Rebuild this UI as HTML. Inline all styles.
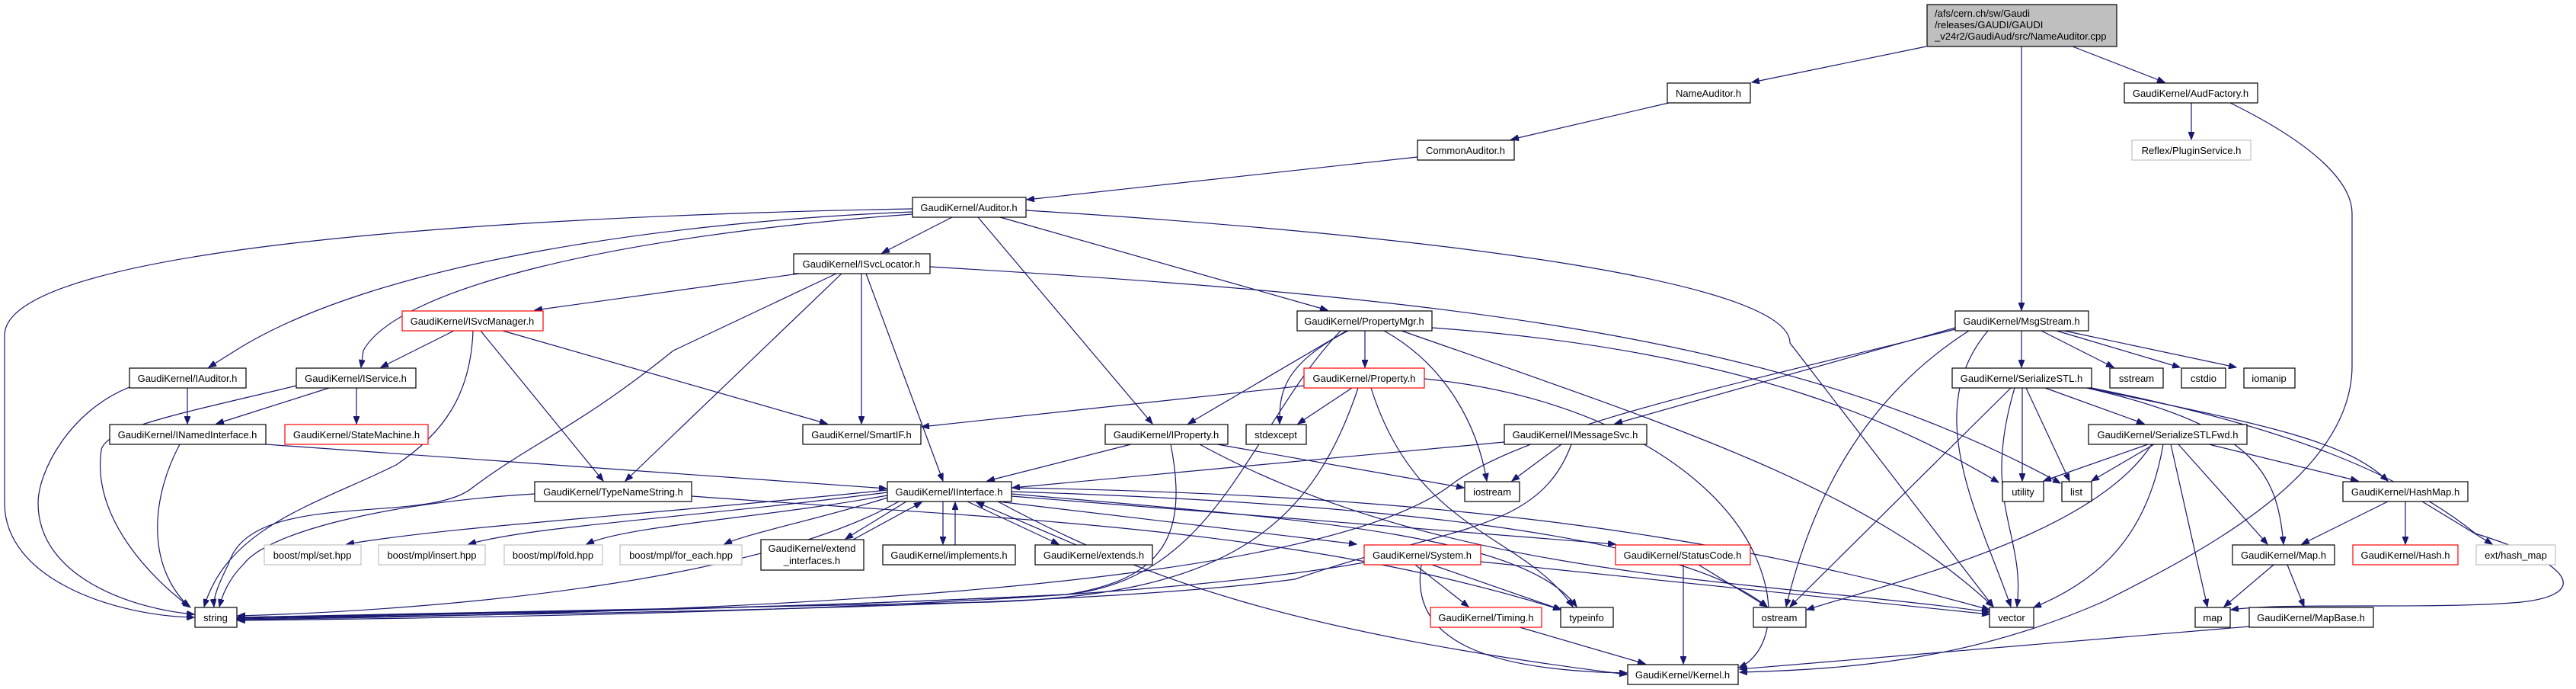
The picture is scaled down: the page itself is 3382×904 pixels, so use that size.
<!DOCTYPE html>
<html><head><meta charset="utf-8"><style>
html,body{margin:0;padding:0;background:#fff;}
svg{display:block;}
text{font-family:"Liberation Sans",Arial,sans-serif;font-size:13px;fill:#000;}
.n rect{fill:#fff;stroke:#000;stroke-width:1.2;}
.r rect{fill:#fff;stroke:#ff0000;stroke-width:1.2;}
.g rect{fill:#fff;stroke:#c0c0c0;stroke-width:1.2;}
.e path{fill:none;stroke:#191970;stroke-width:1.2;marker-end:url(#a);}
</style></head><body>
<svg width="3382" height="904" viewBox="0 0 3382 904" xmlns="http://www.w3.org/2000/svg">
<defs><marker id="a" markerUnits="userSpaceOnUse" markerWidth="11" markerHeight="8" refX="10" refY="4" orient="auto"><path d="M0,0 L10,4 L0,8 z" fill="#191970" stroke="#191970"/></marker></defs>

<g class="e">
<path d="M2529,61 L2300,108"/>
<path d="M2654,61 L2654,407"/>
<path d="M2721,61 L2842,108"/>
<path d="M2191,135 L1984,183"/>
<path d="M1861,206 L1348,262"/>
<path d="M2877,135 L2877,183"/>
<path d="M2928,135 C3040,190 3088,240 3088,280 L3088,480 C3088,620 2900,720 2760,790 C2600,860 2450,878 2284,882"/>
<path d="M1250,285 L1158,332"/>
<path d="M1284,285 L1513,556"/>
<path d="M1313,285 L1743,407"/>
<path d="M1347,276 C1900,310 2350,370 2350,450 L2617,796"/>
<path d="M1198,274 C600,285 6,330 6,440 L6,660 C6,760 150,808 255,810"/>
<path d="M1198,278 C900,290 500,340 309,460 L274,482"/>
<path d="M1198,281 C800,310 520,380 477,460 L474,482"/>
<path d="M1049,359 L702,407"/>
<path d="M1098,359 L884,460 C760,560 700,580 620,640 C560,690 330,640 300,740 C285,770 280,785 281,796"/>
<path d="M1105,359 L821,631"/>
<path d="M1131,359 L1131,556"/>
<path d="M1137,359 L1238,631"/>
<path d="M1221,350 C1900,390 2350,440 2705,634"/>
<path d="M596,434 L500,482"/>
<path d="M621,434 C618,520 580,570 520,610 C420,660 300,690 268,796"/>
<path d="M631,434 L792,631"/>
<path d="M660,434 L1086,556"/>
<path d="M432,509 L284,556"/>
<path d="M468,509 L468,556"/>
<path d="M389,506 C250,540 140,560 133,590 C120,680 200,760 250,797"/>
<path d="M246,509 L246,556"/>
<path d="M170,508 C90,540 50,620 50,660 C50,760 180,800 255,806"/>
<path d="M349,583 L1164,641"/>
<path d="M236,583 C200,650 190,740 248,796"/>
<path d="M702,648 C500,660 350,700 320,740 C300,760 292,780 288,796"/>
<path d="M908,651 C1300,680 1700,690 2049,800"/>
<path d="M1165,643 C800,680 600,690 455,714"/>
<path d="M1165,646 C900,680 700,690 615,714"/>
<path d="M1165,650 C1000,680 820,690 770,714"/>
<path d="M1165,653 C1080,680 980,700 951,714"/>
<path d="M1190,658 L1110,707"/>
<path d="M1120,708 L1210,659"/>
<path d="M1238,658 L1238,714"/>
<path d="M1254,715 L1254,659"/>
<path d="M1270,658 L1390,714"/>
<path d="M1413,715 L1282,659"/>
<path d="M1180,658 C1000,760 600,800 312,808"/>
<path d="M1310,658 L1781,714"/>
<path d="M1328,651 L2121,714"/>
<path d="M1328,648 C1700,680 2000,700 2070,796"/>
<path d="M1328,645 C1800,660 2200,700 2320,796"/>
<path d="M1310,658 C1500,760 1700,830 2136,885"/>
<path d="M1328,640 C1900,650 2250,700 2612,800"/>
<path d="M1712,506 L1210,560"/>
<path d="M1775,509 L1704,556"/>
<path d="M1783,509 C1720,700 1600,780 1300,790 C900,800 500,805 312,810"/>
<path d="M1800,509 C1860,700 2000,700 2065,796"/>
<path d="M1870,497 C2100,520 2250,620 2300,720 C2340,800 2320,860 2283,876"/>
<path d="M1768,434 L1560,556"/>
<path d="M1792,434 L1792,482"/>
<path d="M1770,434 C1680,480 1680,520 1680,556"/>
<path d="M1817,434 C1900,480 1940,560 1952,631"/>
<path d="M1840,434 C2200,560 2450,640 2617,796"/>
<path d="M1880,430 C2300,460 2500,560 2624,633"/>
<path d="M1760,434 C1640,560 1600,760 1400,780 C1000,800 600,805 312,810"/>
<path d="M1485,583 L1296,631"/>
<path d="M1598,583 L1922,640"/>
<path d="M1537,583 C1560,700 1530,760 1400,780 C1000,800 600,806 312,811"/>
<path d="M1575,583 C1900,760 2300,760 2612,803"/>
<path d="M1975,580 L1329,640"/>
<path d="M2050,583 L1985,631"/>
<path d="M2063,583 C2020,700 1900,690 1700,760 C1400,800 700,805 312,812"/>
<path d="M2567,430 L2120,556"/>
<path d="M2654,434 L2654,482"/>
<path d="M2680,434 L2775,482"/>
<path d="M2700,434 L2862,482"/>
<path d="M2710,434 L2936,482"/>
<path d="M2567,432 C2300,500 2000,560 1900,640 C1700,780 900,805 312,813"/>
<path d="M2610,434 C2520,540 2600,680 2640,796"/>
<path d="M2585,434 C2450,520 2380,650 2345,796"/>
<path d="M2640,509 L2350,796"/>
<path d="M2645,509 C2600,660 2660,700 2648,796"/>
<path d="M2655,509 L2655,631"/>
<path d="M2660,509 L2717,631"/>
<path d="M2685,509 L2815,556"/>
<path d="M2740,509 C2960,560 2990,620 2998,714"/>
<path d="M2740,509 C2990,560 3080,580 3135,631"/>
<path d="M2746,509 C3000,560 3150,620 3250,700 C3380,740 3400,780 3310,790 C3200,800 3000,790 2929,800"/>
<path d="M2820,583 L2683,631"/>
<path d="M2828,583 L2746,631"/>
<path d="M2825,583 C2750,700 2500,760 2372,800"/>
<path d="M2840,583 C2820,700 2760,760 2670,797"/>
<path d="M2850,583 L2898,796"/>
<path d="M2860,583 L2977,714"/>
<path d="M2900,583 L3096,631"/>
<path d="M3135,658 L3022,714"/>
<path d="M3158,658 L3158,714"/>
<path d="M3180,658 L3272,714"/>
<path d="M2985,741 L2920,796"/>
<path d="M3003,741 L3025,796"/>
<path d="M2953,822 L2284,878"/>
<path d="M1791,738 C1500,790 900,808 312,814"/>
<path d="M1858,741 L1928,796"/>
<path d="M1880,741 L2050,800"/>
<path d="M1866,741 C1850,840 1950,880 2136,883"/>
<path d="M1944,737 L2612,806"/>
<path d="M1995,823 L2160,871"/>
<path d="M2210,741 L2210,871"/>
<path d="M2230,741 L2320,796"/>
</g>

<g class="n"><rect x="2530" y="6" width="249" height="55" style="fill:#bfbfbf"/>
<text x="2540" y="22">/afs/cern.ch/sw/Gaudi</text><text x="2540" y="37">/releases/GAUDI/GAUDI</text><text x="2540" y="52">_v24r2/GaudiAud/src/NameAuditor.cpp</text></g>

<g class="n" text-anchor="middle">
<rect x="2189" y="109" width="109" height="26"/><text x="2243" y="127">NameAuditor.h</text>
<rect x="1861" y="184" width="127" height="26"/><text x="1924" y="202">CommonAuditor.h</text>
<rect x="1198" y="259" width="149" height="26"/><text x="1272" y="277">GaudiKernel/Auditor.h</text>
<rect x="2789" y="109" width="175" height="26"/><text x="2876" y="127">GaudiKernel/AudFactory.h</text>
<rect x="1042" y="333" width="179" height="26"/><text x="1131" y="351">GaudiKernel/ISvcLocator.h</text>
<rect x="1703" y="408" width="177" height="26"/><text x="1791" y="426">GaudiKernel/PropertyMgr.h</text>
<rect x="2567" y="408" width="175" height="26"/><text x="2654" y="426">GaudiKernel/MsgStream.h</text>
<rect x="170" y="483" width="153" height="26"/><text x="246" y="501">GaudiKernel/IAuditor.h</text>
<rect x="389" y="483" width="157" height="26"/><text x="467" y="501">GaudiKernel/IService.h</text>
<rect x="2563" y="483" width="183" height="26"/><text x="2654" y="501">GaudiKernel/SerializeSTL.h</text>
<rect x="2770" y="483" width="70" height="26"/><text x="2805" y="501">sstream</text>
<rect x="2864" y="483" width="58" height="26"/><text x="2893" y="501">cstdio</text>
<rect x="2946" y="483" width="67" height="26"/><text x="2979" y="501">iomanip</text>
<rect x="144" y="557" width="205" height="26"/><text x="246" y="575">GaudiKernel/INamedInterface.h</text>
<rect x="1054" y="557" width="155" height="26"/><text x="1131" y="575">GaudiKernel/SmartIF.h</text>
<rect x="1451" y="557" width="161" height="26"/><text x="1531" y="575">GaudiKernel/IProperty.h</text>
<rect x="1636" y="557" width="79" height="26"/><text x="1675" y="575">stdexcept</text>
<rect x="1975" y="557" width="187" height="26"/><text x="2068" y="575">GaudiKernel/IMessageSvc.h</text>
<rect x="2742" y="557" width="208" height="26"/><text x="2846" y="575">GaudiKernel/SerializeSTLFwd.h</text>
<rect x="702" y="632" width="206" height="26"/><text x="805" y="650">GaudiKernel/TypeNameString.h</text>
<rect x="1165" y="632" width="163" height="26"/><text x="1246" y="650">GaudiKernel/IInterface.h</text>
<rect x="1923" y="632" width="72" height="26"/><text x="1959" y="650">iostream</text>
<rect x="2629" y="632" width="54" height="26"/><text x="2656" y="650">utility</text>
<rect x="2707" y="632" width="39" height="26"/><text x="2726" y="650">list</text>
<rect x="3076" y="632" width="164" height="26"/><text x="3158" y="650">GaudiKernel/HashMap.h</text>
<rect x="999" y="708" width="135" height="40"/><text x="1066" y="724">GaudiKernel/extend</text><text x="1066" y="740">_interfaces.h</text>
<rect x="1159" y="715" width="174" height="26"/><text x="1246" y="733">GaudiKernel/implements.h</text>
<rect x="1359" y="715" width="154" height="26"/><text x="1436" y="733">GaudiKernel/extends.h</text>
<rect x="2931" y="715" width="134" height="26"/><text x="2998" y="733">GaudiKernel/Map.h</text>
<rect x="256" y="797" width="55" height="26"/><text x="283" y="815">string</text>
<rect x="2049" y="797" width="69" height="26"/><text x="2083" y="815">typeinfo</text>
<rect x="2302" y="797" width="69" height="26"/><text x="2336" y="815">ostream</text>
<rect x="2612" y="797" width="58" height="26"/><text x="2641" y="815">vector</text>
<rect x="2882" y="797" width="46" height="26"/><text x="2905" y="815">map</text>
<rect x="2953" y="797" width="163" height="26"/><text x="3034" y="815">GaudiKernel/MapBase.h</text>
<rect x="2137" y="872" width="145" height="26"/><text x="2209" y="890">GaudiKernel/Kernel.h</text>
</g>

<g class="r" text-anchor="middle">
<rect x="528" y="408" width="185" height="26"/><text x="620" y="426">GaudiKernel/ISvcManager.h</text>
<rect x="1712" y="483" width="158" height="26"/><text x="1791" y="501">GaudiKernel/Property.h</text>
<rect x="374" y="557" width="188" height="26"/><text x="468" y="575">GaudiKernel/StateMachine.h</text>
<rect x="1791" y="715" width="153" height="26"/><text x="1867" y="733">GaudiKernel/System.h</text>
<rect x="2121" y="715" width="177" height="26"/><text x="2209" y="733">GaudiKernel/StatusCode.h</text>
<rect x="3089" y="715" width="138" height="26"/><text x="3158" y="733">GaudiKernel/Hash.h</text>
<rect x="1878" y="797" width="146" height="26"/><text x="1951" y="815">GaudiKernel/Timing.h</text>
</g>

<g class="g" text-anchor="middle">
<rect x="2799" y="184" width="156" height="26"/><text x="2877" y="202">Reflex/PluginService.h</text>
<rect x="347" y="715" width="127" height="26"/><text x="410" y="733">boost/mpl/set.hpp</text>
<rect x="497" y="715" width="140" height="26"/><text x="567" y="733">boost/mpl/insert.hpp</text>
<rect x="662" y="715" width="129" height="26"/><text x="726" y="733">boost/mpl/fold.hpp</text>
<rect x="814" y="715" width="160" height="26"/><text x="894" y="733">boost/mpl/for_each.hpp</text>
<rect x="3251" y="715" width="104" height="26"/><text x="3303" y="733">ext/hash_map</text>
</g>
</svg>
</body></html>
